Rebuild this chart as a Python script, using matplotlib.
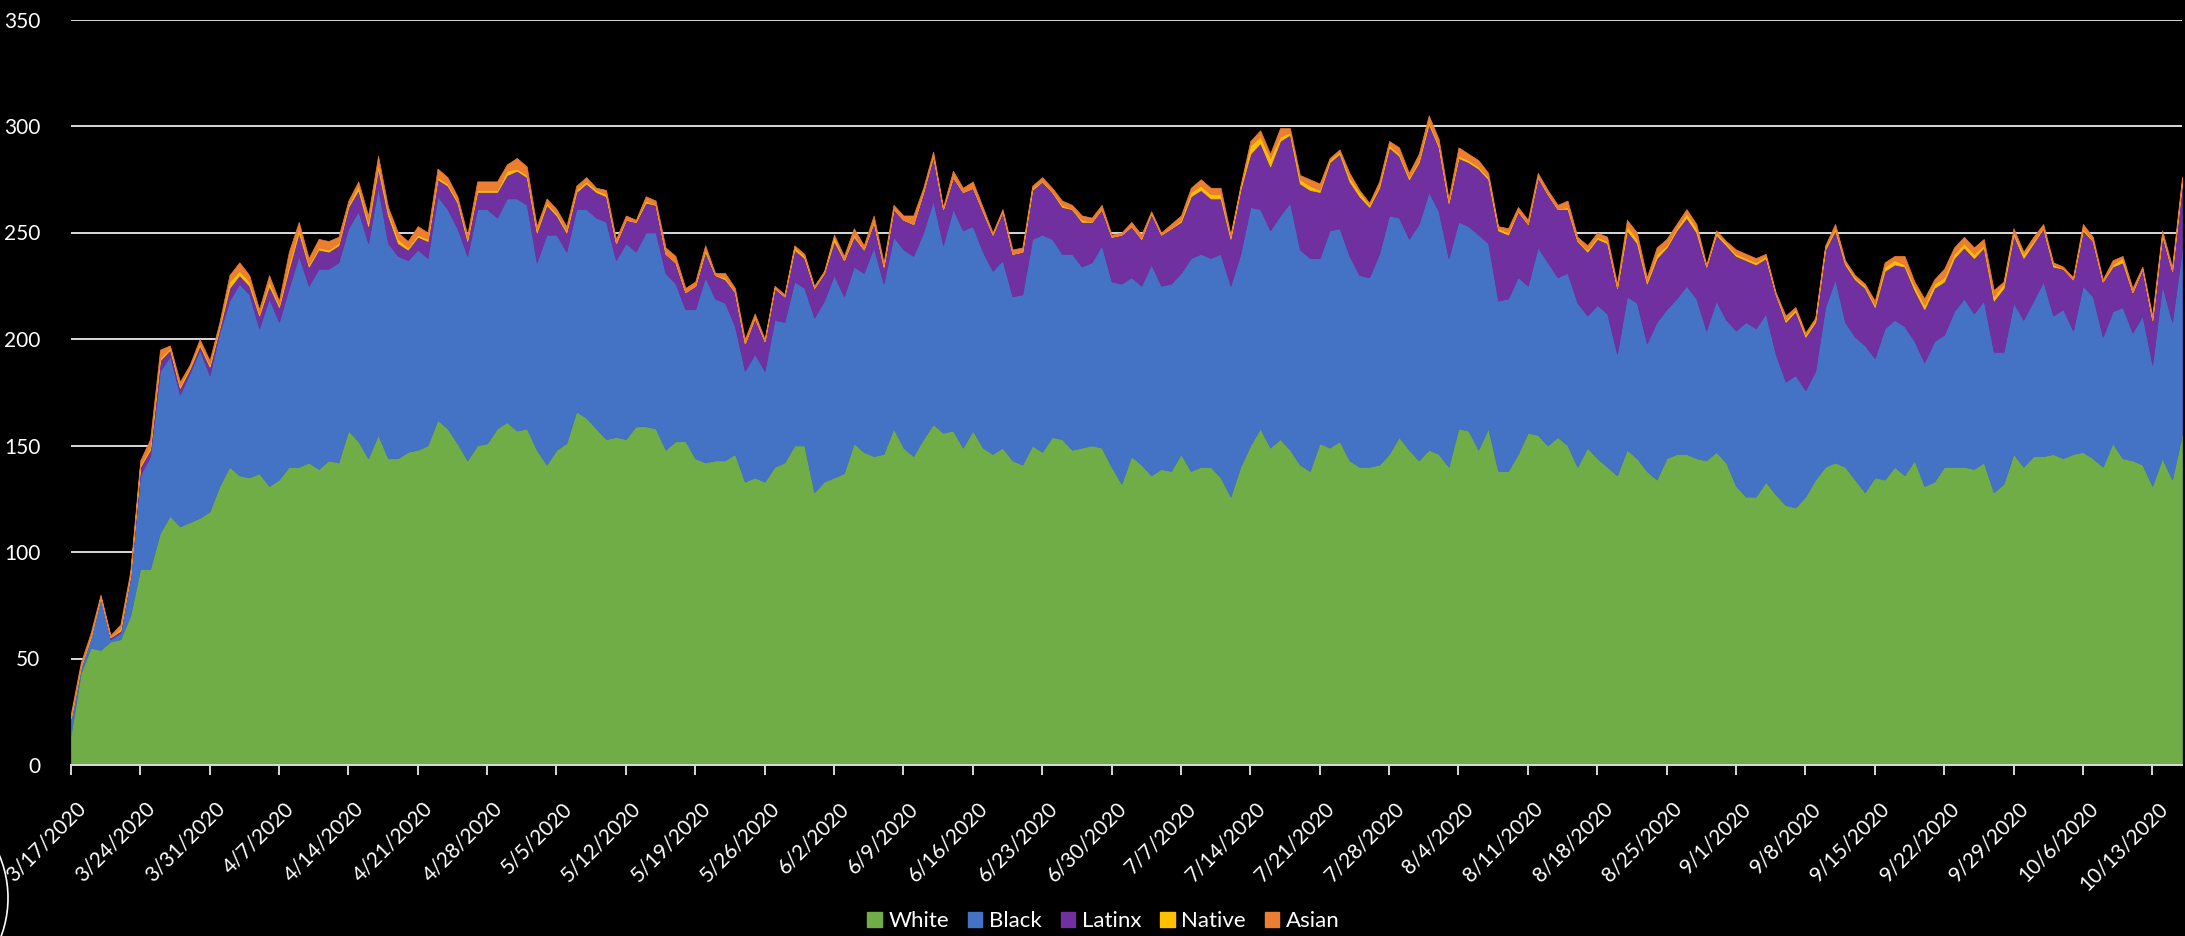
import matplotlib
matplotlib.use("Agg")
import matplotlib.pyplot as plt
import matplotlib.transforms as mtransforms
from matplotlib.patches import Patch, Arc
import numpy as np
import pandas as pd

plt.rcParams['font.family'] = ['Lato', 'DejaVu Sans']

start_date = "2020-03-17"
series_names = ["White", "Black", "Latinx", "Native", "Asian"]
series_colors = ["#70AD47", "#4472C4", "#7030A0", "#FFC000", "#ED7D31"]

white = [14, 43, 55, 54, 58, 59, 70, 92, 92, 109,
         117, 112, 114, 116, 119, 131, 140, 136, 135, 137,
         131, 134, 140, 140, 142, 139, 143, 142, 157, 152,
         144, 155, 144, 144, 147, 148, 150, 162, 158, 151,
         143, 150, 151, 158, 161, 157, 158, 148, 141, 148,
         151, 166, 163, 158, 153, 154, 153, 159, 159, 158,
         148, 152, 152, 144, 142, 143, 143, 146, 133, 135,
         133, 140, 142, 150, 150, 128, 133, 135, 137, 151,
         147, 145, 146, 158, 149, 145, 153, 160, 156, 157,
         149, 157, 149, 146, 149, 143, 141, 150, 147, 154,
         153, 148, 149, 150, 149, 140, 132, 145, 141, 136,
         139, 138, 146, 138, 140, 140, 135, 126, 140, 150,
         158, 149, 153, 148, 141, 138, 151, 149, 152, 143,
         140, 140, 141, 146, 154, 148, 143, 148, 146, 140,
         158, 157, 148, 158, 138, 138, 146, 156, 155, 150,
         154, 150, 140, 149, 144, 140, 136, 148, 144, 138,
         134, 144, 146, 146, 144, 143, 147, 142, 131, 126,
         126, 133, 127, 122, 121, 126, 134, 140, 142, 140,
         134, 128, 135, 134, 140, 136, 143, 131, 133, 140,
         140, 140, 139, 142, 128, 132, 146, 140, 145, 145,
         146, 144, 146, 147, 144, 140, 151, 144, 143, 141,
         131, 144, 134, 155]

black = [8, 3, 5, 25, 1, 3, 18, 44, 53, 76,
         75, 62, 70, 79, 64, 72, 78, 90, 86, 68,
         88, 74, 84, 99, 83, 94, 90, 94, 95, 108,
         101, 116, 101, 95, 90, 94, 88, 105, 103, 101,
         96, 111, 110, 99, 105, 109, 105, 88, 108, 101,
         90, 95, 98, 99, 102, 83, 92, 82, 91, 92,
         83, 74, 62, 70, 87, 76, 74, 60, 52, 58,
         52, 69, 66, 77, 74, 82, 85, 95, 83, 83,
         84, 98, 80, 90, 93, 94, 97, 105, 88, 104,
         102, 96, 92, 86, 88, 77, 80, 97, 102, 93,
         87, 92, 85, 86, 95, 87, 94, 84, 84, 99,
         86, 88, 85, 100, 100, 98, 105, 99, 100, 112,
         103, 102, 105, 116, 101, 100, 87, 102, 100, 96,
         90, 89, 99, 112, 103, 99, 111, 121, 114, 98,
         97, 96, 101, 87, 80, 81, 83, 69, 88, 86,
         75, 81, 77, 62, 72, 72, 57, 72, 73, 60,
         74, 70, 73, 79, 75, 61, 71, 67, 73, 82,
         79, 79, 66, 58, 62, 50, 51, 75, 86, 68,
         67, 69, 56, 71, 69, 70, 56, 58, 66, 62,
         73, 79, 73, 76, 66, 62, 71, 69, 73, 82,
         65, 70, 58, 78, 76, 61, 62, 71, 60, 70,
         57, 81, 74, 87]

latinx = [0, 0, 0, 0, 1, 1, 1, 4, 3, 5,
          3, 3, 2, 2, 4, 2, 6, 4, 4, 6,
          6, 7, 9, 11, 9, 9, 8, 8, 10, 10,
          8, 9, 13, 6, 5, 6, 8, 8, 11, 12,
          7, 8, 8, 12, 11, 13, 13, 14, 14, 9,
          9, 8, 12, 12, 12, 8, 11, 14, 14, 13,
          9, 10, 8, 11, 12, 11, 11, 16, 13, 17,
          14, 15, 12, 15, 14, 14, 13, 16, 17, 14,
          11, 12, 8, 13, 14, 15, 19, 21, 17, 15,
          18, 18, 19, 17, 23, 20, 20, 23, 25, 22,
          22, 21, 21, 19, 17, 21, 23, 24, 22, 24,
          24, 26, 24, 29, 30, 28, 26, 22, 30, 25,
          31, 30, 35, 32, 31, 32, 31, 32, 35, 35,
          37, 33, 31, 32, 29, 28, 29, 32, 30, 26,
          30, 30, 31, 30, 33, 30, 31, 29, 33, 32,
          32, 30, 29, 30, 31, 33, 31, 31, 28, 28,
          30, 29, 32, 32, 31, 30, 31, 35, 35, 29,
          30, 26, 28, 28, 30, 25, 23, 27, 23, 27,
          27, 27, 24, 27, 26, 28, 24, 25, 25, 25,
          25, 24, 26, 25, 24, 30, 32, 29, 27, 25,
          23, 19, 24, 26, 26, 26, 21, 21, 19, 22,
          21, 24, 24, 31]

native = [0, 0, 0, 0, 0, 1, 0, 1, 1, 1,
          1, 1, 1, 1, 1, 1, 3, 2, 2, 1,
          2, 1, 2, 2, 1, 1, 1, 1, 1, 2,
          2, 2, 2, 2, 1, 1, 1, 1, 1, 1,
          1, 1, 1, 1, 2, 1, 1, 1, 1, 1,
          1, 1, 1, 1, 1, 0, 0, 0, 1, 0,
          0, 0, 0, 0, 1, 0, 1, 0, 0, 0,
          0, 0, 0, 1, 1, 0, 0, 2, 0, 1,
          0, 0, 0, 0, 0, 0, 0, 0, 0, 0,
          0, 0, 0, 0, 0, 0, 0, 1, 0, 0,
          1, 0, 1, 0, 0, 0, 0, 0, 0, 0,
          0, 0, 1, 2, 2, 2, 2, 1, 1, 4,
          3, 4, 2, 1, 2, 2, 1, 1, 1, 2,
          2, 1, 1, 1, 1, 1, 1, 1, 1, 0,
          1, 1, 1, 1, 1, 1, 0, 0, 0, 0,
          0, 1, 0, 1, 1, 1, 0, 2, 2, 1,
          2, 1, 1, 2, 2, 0, 1, 1, 1, 1,
          1, 1, 0, 1, 1, 1, 1, 1, 1, 1,
          1, 1, 1, 2, 2, 1, 2, 2, 2, 2,
          2, 2, 2, 1, 2, 2, 1, 2, 1, 0,
          1, 0, 0, 1, 0, 0, 1, 2, 0, 0,
          0, 0, 0, 1]

asian = [2, 2, 2, 1, 1, 2, 2, 2, 4, 4,
         1, 2, 1, 2, 2, 2, 3, 4, 3, 2,
         3, 2, 6, 3, 3, 4, 4, 3, 2, 2,
         3, 4, 2, 3, 3, 4, 3, 4, 3, 2,
         2, 4, 4, 4, 3, 5, 4, 2, 2, 2,
         2, 2, 2, 1, 2, 2, 2, 1, 2, 2,
         3, 3, 2, 2, 2, 1, 2, 2, 2, 2,
         1, 1, 1, 1, 1, 1, 1, 1, 2, 3,
         2, 3, 2, 2, 2, 4, 2, 2, 1, 3,
         2, 3, 2, 1, 1, 2, 2, 1, 2, 2,
         2, 2, 2, 2, 2, 1, 1, 2, 2, 1,
         1, 2, 2, 2, 3, 3, 3, 1, 1, 2,
         3, 2, 4, 2, 2, 3, 3, 1, 1, 2,
         1, 1, 2, 2, 3, 2, 3, 3, 3, 2,
         4, 3, 3, 2, 1, 2, 2, 2, 2, 2,
         2, 3, 2, 2, 2, 2, 2, 3, 3, 2,
         3, 3, 2, 2, 2, 1, 1, 1, 2, 2,
         2, 1, 1, 2, 1, 1, 1, 1, 2, 1,
         1, 1, 2, 2, 2, 4, 2, 3, 2, 4,
         3, 3, 3, 3, 3, 1, 2, 1, 2, 2,
         1, 1, 1, 2, 2, 1, 2, 1, 2, 1,
         2, 2, 2, 2]

y_ticks = [0, 50, 100, 150, 200, 250, 300, 350]

n = min(len(white), len(black), len(latinx), len(native), len(asian))
dates = pd.date_range(start_date, periods=n, freq="D")
x = np.arange(n)

W, H, DPI = 2185, 936, 100
fig = plt.figure(figsize=(W / DPI, H / DPI), dpi=DPI, facecolor="black")
ax = fig.add_axes([70.8 / W, 1 - 765 / H, (2182 - 70.8) / W, (765 - 19.5) / H])
ax.set_facecolor("black")

polys = ax.stackplot(x, white[:n], black[:n], latinx[:n], native[:n], asian[:n],
                     colors=series_colors, labels=series_names, linewidth=0.5)
for p, c in zip(polys, series_colors):
    p.set_edgecolor(c)

ax.set_xlim(0, n - 1)
ax.set_ylim(0, 350)
ax.set_yticks(y_ticks)
ax.yaxis.grid(True, color="#d9d9d9", linewidth=1.4)
ax.set_axisbelow(True)
for s in ["top", "right", "left"]:
    ax.spines[s].set_visible(False)
ax.spines["bottom"].set_color("#d9d9d9")
ax.spines["bottom"].set_linewidth(1.4)
ax.spines["bottom"].set_zorder(5)

tick_pos = x[::7]
tick_labels = [f"{d.month}/{d.day}/{d.year}" for d in dates[::7]]
ax.set_xticks(tick_pos)
ax.set_xticklabels(tick_labels, rotation=45, ha="right", va="top",
                   rotation_mode="anchor", fontsize=15, color="white")
ax.tick_params(axis="x", colors="#d9d9d9", length=7, width=1.4, direction="out", pad=17,
               labelcolor="white")
ax.tick_params(axis="y", length=0, pad=22, labelsize=15, labelcolor="white")
offset = mtransforms.ScaledTranslation(5 / DPI, 0, fig.dpi_scale_trans)
for lab in ax.get_xticklabels():
    lab.set_transform(lab.get_transform() + offset)

handles = [Patch(facecolor=c, edgecolor=c) for c in series_colors]
fig.legend(handles, series_names, loc="center", bbox_to_anchor=(0.505, 1 - 921 / H),
           ncol=5, frameon=False, fontsize=16, handlelength=0.65, handleheight=0.65,
           handletextpad=0.3, columnspacing=0.85, labelcolor="white")

arc = Arc((-1.02, 0.38), 2.2, 2.2, theta1=-60, theta2=60, color="white", linewidth=1.2,
          transform=fig.dpi_scale_trans)
fig.add_artist(arc)

fig.savefig("out.png", dpi=DPI, facecolor="black")
